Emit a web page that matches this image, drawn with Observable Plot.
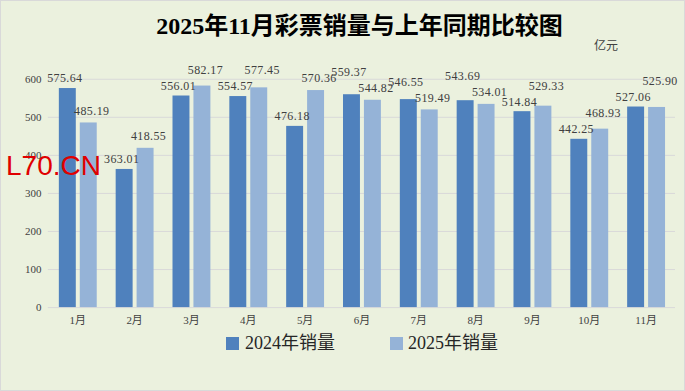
<!DOCTYPE html>
<html><head><meta charset="utf-8">
<script src="https://cdn.jsdelivr.net/npm/d3@7"></script>
<script src="https://cdn.jsdelivr.net/npm/@observablehq/plot@0.6"></script>
<style>
html,body{margin:0;padding:0;background:#fff}
#chart{position:relative;width:685px;height:391px;background:#EBF1DE;box-sizing:border-box;border:1px solid #d9d9d9;overflow:hidden;font-family:"Liberation Serif","Noto Sans CJK SC",serif}
#chart svg{position:absolute;left:-1px;top:-1px}
#title{position:absolute;left:16px;top:11px;width:685px;text-align:center;font-size:24px;font-weight:bold;line-height:28px;color:#000;letter-spacing:0px;font-family:"Liberation Serif","Noto Sans CJK SC",serif}
#unit{position:absolute;left:593px;top:37px;font-size:12px;line-height:14px;color:#404040;font-family:"Noto Sans CJK SC",sans-serif}
#wm{position:absolute;left:5px;top:148px;font-size:28px;line-height:34px;color:#e00000;font-family:"Liberation Sans",Arial,sans-serif;z-index:5}
.lg{position:absolute;font-size:18px;line-height:22px;color:#262626;font-family:"Liberation Serif","Noto Sans CJK SC",serif}
.sw{position:absolute;width:13px;height:13px}
</style></head>
<body>
<div id="chart">
  <div id="title"></div>
  <div id="unit"></div>
  <div id="wm">L70.CN</div>
</div>
<script>
const months = ["1月","2月","3月","4月","5月","6月","7月","8月","9月","10月","11月"];
const sales2024 = [575.64,363.01,556.01,554.57,476.18,559.37,546.55,543.69,514.84,442.25,527.06];
const sales2025 = [485.19,418.55,582.17,577.45,570.36,544.82,519.49,534.01,529.33,468.93,525.90];
const seriesNames = ["2024年销量","2025年销量"];
const seriesColors = ["#4F81BD","#95B3D7"];
const yTicks = [0,100,200,300,400,500,600];
const titleText = "2025年11月彩票销量与上年同期比较图";
const unitText = "亿元";

const chart = document.getElementById("chart");
document.getElementById("title").textContent = titleText;
document.getElementById("unit").textContent = unitText;

const W = 685, H = 391, mT = 79, mB = 83, mL = 48, mR = 8;
const yMax = 600;
const pxPerUnit = (H - mT - mB) / yMax;

// label placement: offset above bar top (px), pushing the higher label up when two labels in a month collide
const rows24 = [], rows25 = [];
months.forEach((m,i)=>{
  let o24 = 10, o25 = 12;
  let p24 = sales2024[i]*pxPerUnit + o24, p25 = sales2025[i]*pxPerUnit + o25;
  if (Math.abs(p24 - p25) < 14) {
    if (p24 >= p25) p24 = p25 + 16; else p25 = p24 + 16;
  }
  rows24.push({month:m, value:sales2024[i], ly:p24/pxPerUnit});
  rows25.push({month:m, value:sales2025[i], ly:p25/pxPerUnit});
});

const labelFont = {fontSize:12, fontFamily:"Liberation Serif, serif", fill:"#404040", textAnchor:"middle", lineAnchor:"middle"};

const svg = Plot.plot({
  width:W, height:H,
  marginLeft:mL, marginRight:mR, marginTop:mT, marginBottom:mB,
  style:{background:"transparent", fontFamily:"Liberation Serif, Noto Sans CJK SC, serif", fontSize:"11px", color:"#404040", overflow:"visible"},
  x:{type:"band", domain:months, padding:0, label:null, tickSize:0, tickPadding:9},
  y:{domain:[0,yMax], ticks:yTicks, label:null, tickSize:0, tickPadding:7},
  marks:[
    Plot.ruleY(yTicks, {stroke:"#d9d9d9", strokeWidth:1}),
    Plot.barY(rows24, {x:"month", y:"value", fill:seriesColors[0], insetLeft:10, insetRight:30}),
    Plot.barY(rows25, {x:"month", y:"value", fill:seriesColors[1], insetLeft:31, insetRight:9}),
    Plot.text(rows24, {x:"month", y:"ly", text:d=>d.value.toFixed(2), dx:-13, ...labelFont, clip:false}),
    Plot.text(rows25, {x:"month", y:"ly", text:d=>d.value.toFixed(2), dx:14, ...labelFont, clip:false})
  ]
});
svg.querySelectorAll("text").forEach(t=>{ if (/^\d+\.\d\d$/.test(t.textContent)) t.setAttribute("letter-spacing","0.4"); });
chart.appendChild(svg);

// legend
const legendPos = [{sq:225, tx:244},{sq:389, tx:407}];
seriesNames.forEach((name,i)=>{
  const s = document.createElement("div");
  s.className="sw"; s.style.left=legendPos[i].sq+"px"; s.style.top="336px"; s.style.background=seriesColors[i];
  chart.appendChild(s);
  const t = document.createElement("div");
  t.className="lg"; t.style.left=legendPos[i].tx+"px"; t.style.top="331px"; t.textContent=name;
  chart.appendChild(t);
});
</script>
</body></html>
